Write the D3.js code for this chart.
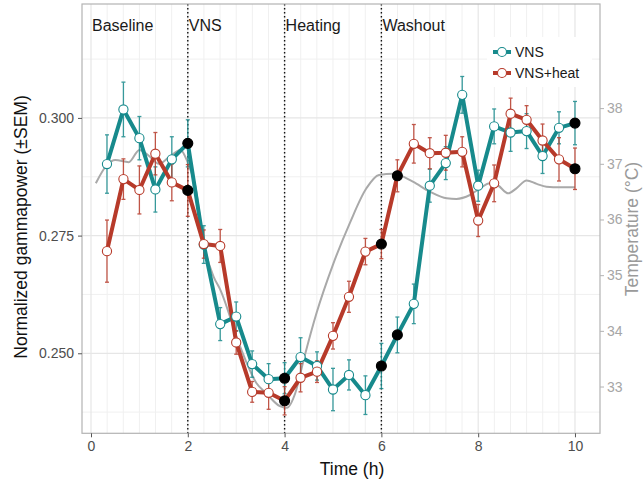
<!DOCTYPE html>
<html>
<head>
<meta charset="utf-8">
<script src="https://cdn.jsdelivr.net/npm/d3@7"></script>
<style>
  body { margin: 0; background: #fff; }
  svg text { font-family: "Liberation Sans", Arial, sans-serif; }
</style>
</head>
<body>
<div id="chart-area"></div>
<script>
// hours, one sample every 20 min
const times = [0.33, 0.67, 1, 1.33, 1.67, 2, 2.33, 2.67, 3, 3.33, 3.67, 4, 4.33, 4.67, 5,
               5.33, 5.67, 6, 6.33, 6.67, 7, 7.33, 7.67, 8, 8.33, 8.67, 9, 9.33, 9.67, 10]

const vns = [0.2902, 0.3018, 0.2957, 0.2848, 0.2912, 0.2946, 0.2731, 0.2562, 0.2578, 0.2477,
             0.2445, 0.2447, 0.2492, 0.2473, 0.2423, 0.2454, 0.2411, 0.2473, 0.2539, 0.2605,
             0.2856, 0.2904, 0.3049, 0.2856, 0.2982, 0.2969, 0.2972, 0.2919, 0.2979, 0.2989]
const vnsSem = [0.0062, 0.0058, 0.0046, 0.0048, 0.0048, 0.0050, 0.0040, 0.0035, 0.0031, 0.0028,
                0.0033, 0.0033, 0.0041, 0.0030, 0.0045, 0.0032, 0.0041, 0.0048, 0.0038, 0.0042,
                0.0035, 0.0035, 0.0039, 0.0033, 0.0037, 0.0040, 0.0037, 0.0037, 0.0034, 0.0046]

const heat = [0.2717, 0.2870, 0.2847, 0.2924, 0.2863, 0.2846, 0.2732, 0.2728, 0.2523, 0.2418,
              0.2416, 0.2399, 0.2448, 0.2461, 0.2537, 0.2620, 0.2716, 0.2732, 0.2877, 0.2945,
              0.2925, 0.2926, 0.2928, 0.2782, 0.2861, 0.3009, 0.2996, 0.2952, 0.2912, 0.2892]
const heatSem = [0.0066, 0.0043, 0.0051, 0.0045, 0.0039, 0.0055, 0.0030, 0.0035, 0.0025, 0.0022,
                 0.0035, 0.0030, 0.0030, 0.0023, 0.0028, 0.0033, 0.0028, 0.0031, 0.0034, 0.0041,
                 0.0033, 0.0037, 0.0032, 0.0034, 0.0039, 0.0033, 0.0030, 0.0035, 0.0046, 0.0044]

// time points drawn as filled black dots
const filledTimes = [2, 4, 6, 6.33, 10]

// body temperature trace (right axis)
const tempTime = [0.1, 0.33, 0.5, 0.78, 1.0, 1.2, 1.4, 1.6, 1.85, 2.0, 2.15, 2.33, 2.53, 2.67, 3.08,
                  3.42, 3.62, 3.9, 4.05, 4.22, 4.4, 4.66, 5.0, 5.35, 5.69, 5.95, 6.25, 6.65, 7.0,
                  7.35, 7.55, 7.83, 8.04, 8.24, 8.41, 8.62, 8.79, 9.0, 9.21, 9.41, 9.69, 10.0]
const temp = [36.65, 36.98, 37.07, 37.03, 37.25, 37.14, 37.0, 37.11, 37.25, 37.02, 36.62, 35.56,
              34.98, 34.74, 33.72, 33.06, 32.88, 32.65, 32.62, 32.88, 33.5, 34.32, 35.19, 35.94,
              36.56, 36.8, 36.82, 36.68, 36.5, 36.38, 36.37, 36.44, 36.56, 36.65, 36.61, 36.47,
              36.56, 36.7, 36.64, 36.59, 36.58, 36.58]

const phaseNames = ["Baseline", "VNS", "Heating", "Washout"]
const phaseStarts = [0, 2, 4, 6]

const xTicks = [0, 2, 4, 6, 8, 10]
const yTicks = [0.250, 0.275, 0.300]
const yMinor = [0.2375, 0.2625, 0.2875, 0.3125]
const tempTicks = [33, 34, 35, 36, 37, 38]

const seriesNames = ["VNS", "VNS+heat"]
const seriesColors = ["#178a8c", "#b73a2a"]

const width = 643, height = 483
const pLeft = 82, pRight = 600, pTop = 4, pBottom = 433.3

const svg = d3.select("#chart-area").append("svg")
    .attr("width", width)
    .attr("height", height)

const x = d3.scaleLinear().domain([-0.186, 10.517]).range([pLeft, pRight])
const y = d3.scaleLinear().domain([0.2330, 0.3242]).range([pBottom, pTop])
const yTemp = d3.scaleLinear().domain([32.16, 39.87]).range([pBottom, pTop])

// grid
const minorX = d3.range(0, 31).map(k => k / 3).filter(v => !xTicks.includes(Math.round(v * 100) / 100))
svg.append("g").selectAll("line").data(minorX).join("line")
    .attr("x1", d => x(d)).attr("x2", d => x(d))
    .attr("y1", pTop).attr("y2", pBottom)
    .attr("stroke", "#f0f0f0").attr("stroke-width", 1)
svg.append("g").selectAll("line").data(yMinor).join("line")
    .attr("x1", pLeft).attr("x2", pRight)
    .attr("y1", d => y(d)).attr("y2", d => y(d))
    .attr("stroke", "#f0f0f0").attr("stroke-width", 1)
svg.append("g").selectAll("line").data(xTicks).join("line")
    .attr("x1", d => x(d)).attr("x2", d => x(d))
    .attr("y1", pTop).attr("y2", pBottom)
    .attr("stroke", "#e6e6e6").attr("stroke-width", 1.2)
svg.append("g").selectAll("line").data(yTicks).join("line")
    .attr("x1", pLeft).attr("x2", pRight)
    .attr("y1", d => y(d)).attr("y2", d => y(d))
    .attr("stroke", "#e6e6e6").attr("stroke-width", 1.2)

// phase boundaries
svg.append("g").selectAll("line").data(phaseStarts.slice(1)).join("line")
    .attr("x1", d => x(d)).attr("x2", d => x(d))
    .attr("y1", pTop).attr("y2", pBottom)
    .attr("stroke", "#111").attr("stroke-width", 1.4)
    .attr("stroke-dasharray", "1.4,2.6")

svg.append("g").selectAll("text").data(phaseNames).join("text")
    .attr("x", (d, i) => x(phaseStarts[i]) + 1)
    .attr("y", 30.5)
    .attr("font-size", 16)
    .attr("fill", "#1a1a1a")
    .text(d => d)

// temperature trace
const tempLine = d3.line()
    .x((d, i) => x(tempTime[i]))
    .y(d => yTemp(d))
    .curve(d3.curveMonotoneX)
svg.append("path")
    .datum(temp)
    .attr("d", tempLine)
    .attr("fill", "none")
    .attr("stroke", "#a9a9a9")
    .attr("stroke-width", 2)

const series = [
  { name: seriesNames[0], color: seriesColors[0], vals: vns, sem: vnsSem },
  { name: seriesNames[1], color: seriesColors[1], vals: heat, sem: heatSem }
]

// error bars
series.forEach(s => {
  const g = svg.append("g")
      .attr("stroke", s.color).attr("stroke-width", 1.3).attr("opacity", 0.85)
  g.append("g").selectAll("line").data(s.vals).join("line")
      .attr("x1", (d, i) => x(times[i])).attr("x2", (d, i) => x(times[i]))
      .attr("y1", (d, i) => y(d - s.sem[i])).attr("y2", (d, i) => y(d + s.sem[i]))
  g.append("g").selectAll("line").data(s.vals).join("line")
      .attr("x1", (d, i) => x(times[i]) - 2).attr("x2", (d, i) => x(times[i]) + 2)
      .attr("y1", (d, i) => y(d + s.sem[i])).attr("y2", (d, i) => y(d + s.sem[i]))
  g.append("g").selectAll("line").data(s.vals).join("line")
      .attr("x1", (d, i) => x(times[i]) - 2).attr("x2", (d, i) => x(times[i]) + 2)
      .attr("y1", (d, i) => y(d - s.sem[i])).attr("y2", (d, i) => y(d - s.sem[i]))
})

// lines
const line = d3.line().x((d, i) => x(times[i])).y(d => y(d))
series.forEach(s => {
  svg.append("path")
      .datum(s.vals)
      .attr("d", line)
      .attr("fill", "none")
      .attr("stroke", s.color)
      .attr("stroke-width", 4)
      .attr("stroke-linejoin", "round")
})

// points
const isFilled = i => filledTimes.includes(times[i])
series.forEach(s => {
  svg.append("g").selectAll("circle").data(s.vals).join("circle")
      .attr("cx", (d, i) => x(times[i]))
      .attr("cy", d => y(d))
      .attr("r", (d, i) => isFilled(i) ? 5 : 4.6)
      .attr("fill", (d, i) => isFilled(i) ? "#000" : "#fff")
      .attr("stroke", (d, i) => isFilled(i) ? "#000" : s.color)
      .attr("stroke-width", 1.1)
})

// panel border
svg.append("rect")
    .attr("x", pLeft).attr("y", pTop)
    .attr("width", pRight - pLeft).attr("height", pBottom - pTop)
    .attr("fill", "none").attr("stroke", "#b3b3b3").attr("stroke-width", 1.2)

// axes
const xAxis = svg.append("g")
    .attr("transform", `translate(0,${pBottom})`)
    .call(d3.axisBottom(x).tickValues(xTicks).tickSize(4).tickPadding(4))
const yAxis = svg.append("g")
    .attr("transform", `translate(${pLeft},0)`)
    .call(d3.axisLeft(y).tickValues(yTicks).tickFormat(d3.format(".3f")).tickSize(4).tickPadding(4))
const tAxis = svg.append("g")
    .attr("transform", `translate(${pRight},0)`)
    .call(d3.axisRight(yTemp).tickValues(tempTicks).tickSize(4).tickPadding(3))

;[xAxis, yAxis, tAxis].forEach(a => {
  a.select(".domain").remove()
  a.selectAll("text").attr("font-size", 14).attr("font-family", "Liberation Sans, Arial, sans-serif")
})
xAxis.selectAll("line").attr("stroke", "#555")
xAxis.selectAll("text").attr("fill", "#4d4d4d")
yAxis.selectAll("line").attr("stroke", "#555")
yAxis.selectAll("text").attr("fill", "#4d4d4d")
tAxis.selectAll("line").attr("stroke", "#b3b3b3")
tAxis.selectAll("text").attr("fill", "#a6a6a6")

// axis titles
svg.append("text")
    .attr("x", 352).attr("y", 475)
    .attr("text-anchor", "middle")
    .attr("font-size", 17.5)
    .attr("fill", "#111")
    .text("Time (h)")

svg.append("text")
    .attr("transform", "translate(27,227) rotate(-90)")
    .attr("text-anchor", "middle")
    .attr("font-size", 17.5)
    .attr("fill", "#111")
    .text("Normalized gammapower (±SEM)")

svg.append("text")
    .attr("transform", "translate(638,229) rotate(-90)")
    .attr("text-anchor", "middle")
    .attr("font-size", 17.5)
    .attr("fill", "#9a9a9a")
    .text("Temperature (°C)")

// legend
svg.append("rect")
    .attr("x", 487).attr("y", 37).attr("width", 105).attr("height", 50)
    .attr("fill", "#fff")
const legend = svg.append("g")
const legendY = [52, 73]
series.forEach((s, i) => {
  legend.append("line")
      .attr("x1", 493).attr("x2", 511)
      .attr("y1", legendY[i]).attr("y2", legendY[i])
      .attr("stroke", s.color).attr("stroke-width", 4)
  legend.append("circle")
      .attr("cx", 502).attr("cy", legendY[i]).attr("r", 4.5)
      .attr("fill", "#fff").attr("stroke", s.color).attr("stroke-width", 1.1)
  legend.append("text")
      .attr("x", 515).attr("y", legendY[i] + 5)
      .attr("font-size", 14)
      .attr("fill", "#1a1a1a")
      .text(s.name)
})
</script>
</body>
</html>
